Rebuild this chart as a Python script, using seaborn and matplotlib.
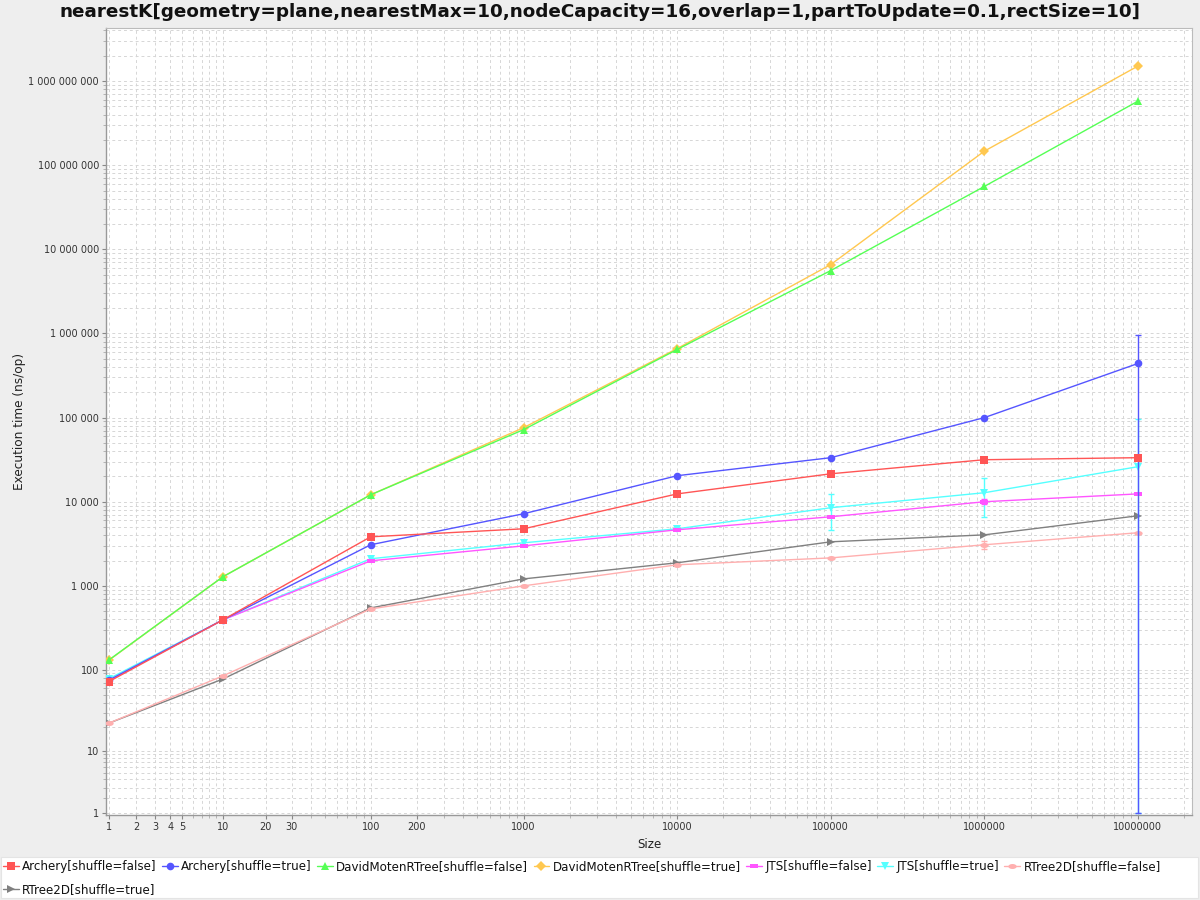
import numpy as np
import pandas as pd
import matplotlib
matplotlib.use("Agg")
import matplotlib.pyplot as plt
import matplotlib.ticker as mticker
from matplotlib.patches import Rectangle
import seaborn as sns

# ---------------- data ----------------
sizes = [1, 10, 100, 1000, 10000, 100000, 1000000, 10000000]

series_names = [
    "Archery[shuffle=false]",
    "Archery[shuffle=true]",
    "DavidMotenRTree[shuffle=false]",
    "DavidMotenRTree[shuffle=true]",
    "JTS[shuffle=false]",
    "JTS[shuffle=true]",
    "RTree2D[shuffle=false]",
    "RTree2D[shuffle=true]",
]

archery_false = [72, 393, 3830, 4770, 12400, 21500, 31600, 33400]
archery_true = [75, 393, 3080, 7200, 20400, 33400, 100000, 440000]
david_false = [131, 1280, 12100, 72000, 646000, 5600000, 56000000, 578000000]
david_true = [130, 1280, 12100, 76000, 662000, 6600000, 147000000, 1510000000]
jts_false = [74, 393, 1985, 2990, 4640, 6630, 10000, 12400]
jts_true = [78, 393, 2100, 3250, 4770, 8490, 12800, 26100]
rtree_false = [22.4, 84, 531, 1000, 1780, 2150, 3080, 4280]
rtree_true = [22.4, 77, 546, 1210, 1880, 3340, 4040, 6810]

# error (+/-) values
archery_false_err = [0, 0, 0, 0, 0, 0, 0, 0]
archery_true_err = [0, 0, 0, 0, 0, 0, 0, 510000]
david_false_err = [0, 0, 0, 0, 0, 0, 0, 0]
david_true_err = [0, 0, 0, 0, 0, 0, 0, 0]
jts_false_err = [0, 0, 0, 0, 0, 0, 700, 0]
jts_true_err = [0, 0, 0, 0, 0, 3900, 6300, 71000]
rtree_false_err = [0, 0, 0, 0, 0, 0, 340, 0]
rtree_true_err = [0, 0, 0, 0, 0, 0, 0, 0]

values = [archery_false, archery_true, david_false, david_true,
          jts_false, jts_true, rtree_false, rtree_true]
errors = [archery_false_err, archery_true_err, david_false_err, david_true_err,
          jts_false_err, jts_true_err, rtree_false_err, rtree_true_err]

x_tick_labels = ["1", "2", "3", "4", "5", "10", "20", "30", "100", "200",
                 "1000", "10000", "100000", "1000000", "10000000"]
y_tick_values = [1, 10, 100, 1000, 10000, 100000, 1000000, 10000000,
                 100000000, 1000000000]

title = ("nearestK[geometry=plane,nearestMax=10,nodeCapacity=16,overlap=1,"
         "partToUpdate=0.1,rectSize=10]")

# ---------------- style ----------------
colors = ["#FF5555", "#5555FF", "#55FF55", "#FFC850",
          "#FF55FF", "#55FFFF", "#FFAFAF", "#808080"]

hrect = [(-1, -0.55), (1, -0.55), (1, 0.55), (-1, 0.55), (-1, -0.55)]
t = np.linspace(0, 2 * np.pi, 40)
hell = list(zip(np.cos(t), 0.6 * np.sin(t)))
markers = ["s", "o", "^", "D", hrect, "v", hell, ">"]
msizes = [6.0, 5.5, 6.0, 5.0, 6.0, 6.0, 6.0, 6.0]

sns.set_theme(style="white")
plt.rcParams["font.family"] = ["DejaVu Sans"]

fig = plt.figure(figsize=(12, 9), dpi=100, facecolor="#EEEEEE")
ax = fig.add_axes([106 / 1200, 1 - 815 / 900, (1192 - 106) / 1200, (815 - 28) / 900])
ax.set_facecolor("white")

fwd = lambda v: np.log10(np.asarray(v, dtype=float) + 1.0)
inv = lambda v: 10.0 ** np.asarray(v, dtype=float) - 1.0
with np.errstate(invalid="ignore", divide="ignore"):
    ax.set_xscale("function", functions=(fwd, inv))
    ax.set_yscale("function", functions=(fwd, inv))

handles = {}
for i in reversed(range(len(series_names))):
    df = pd.DataFrame({"Size": sizes, "Time": values[i]})
    sns.lineplot(data=df, x="Size", y="Time", ax=ax, color=colors[i],
                 marker=markers[i], markersize=msizes[i], markeredgewidth=0,
                 linewidth=1.0, label=series_names[i], legend=False,
                 zorder=3 + (len(series_names) - i))
    handles[series_names[i]] = ax.get_lines()[-1]
    err = np.array(errors[i], dtype=float)
    val = np.array(values[i], dtype=float)
    mask = err > 0
    if mask.any():
        lower = np.minimum(err[mask], val[mask] - 1.0)
        ax.errorbar(np.array(sizes)[mask], val[mask],
                    yerr=[lower, err[mask]], fmt="none", ecolor=colors[i],
                    elinewidth=1.0, capsize=2.5, capthick=1.0,
                    zorder=3 + (len(series_names) - i))

ax.set_xlim(0.91, 22500000)
ax.set_ylim(0.89, 4.28e9)

# ticks
x_major = [float(s) for s in x_tick_labels]
ax.xaxis.set_major_locator(mticker.FixedLocator(x_major))
ax.xaxis.set_major_formatter(mticker.FixedFormatter(x_tick_labels))
minor_x = [k * 10 ** n for n in range(0, 8) for k in range(1, 10)]
ax.xaxis.set_minor_locator(mticker.FixedLocator(minor_x))
ax.yaxis.set_major_locator(mticker.FixedLocator(y_tick_values))
ax.yaxis.set_major_formatter(mticker.FuncFormatter(
    lambda v, p: f"{int(round(v)):,}".replace(",", " ")))
minor_y = [k * 10 ** n for n in range(0, 10) for k in range(1, 10)]
ax.yaxis.set_minor_locator(mticker.FixedLocator(minor_y))
ax.yaxis.set_minor_formatter(mticker.NullFormatter())

ax.tick_params(axis="both", which="major", labelsize=7, length=3, width=0.8,
               color="#888888", direction="out", labelcolor="#333333", pad=2,
               bottom=True, left=True)
ax.tick_params(axis="both", which="minor", length=2, width=0.6,
               color="#AAAAAA", direction="out", bottom=True, left=True)

ax.grid(True, which="both", axis="both", color="#D6D6D6",
        linestyle=(0, (3, 3)), linewidth=0.7, zorder=0)
ax.set_axisbelow(True)

for side in ["top", "right"]:
    ax.spines[side].set_color("#BBBBBB")
    ax.spines[side].set_linewidth(0.8)
for side in ["left", "bottom"]:
    ax.spines[side].set_color("#999999")
    ax.spines[side].set_linewidth(1.0)

ax.set_xlabel("Size", fontsize=8.5, color="#222222", labelpad=4)
ax.set_ylabel("Execution time (ns/op)", fontsize=8.7, color="#222222", labelpad=2)

fig.suptitle(title, x=0.5, y=1 - 12 / 900, va="center", fontsize=13.2,
             fontweight="bold", color="#111111")

# legend box
fig.patches.append(Rectangle((1 / 1200, 2 / 900), 1197 / 1200, 41 / 900,
                             transform=fig.transFigure, facecolor="white",
                             edgecolor="#E4E4E4", linewidth=0.8, zorder=0))
order = [0, 7, 1, 2, 3, 4, 5, 6]
leg = fig.legend([handles[series_names[k]] for k in order],
                 [series_names[k] for k in order],
                 loc="upper left", bbox_to_anchor=(0.0, 1 - 857 / 900),
                 ncol=7, frameon=False, fontsize=8.6, handlelength=1.3,
                 handletextpad=0.3, columnspacing=0.45, labelspacing=0.85,
                 borderpad=0.25, borderaxespad=0.0)
for txt in leg.get_texts():
    txt.set_color("#111111")

fig.savefig("out.png", dpi=100, facecolor=fig.get_facecolor())
